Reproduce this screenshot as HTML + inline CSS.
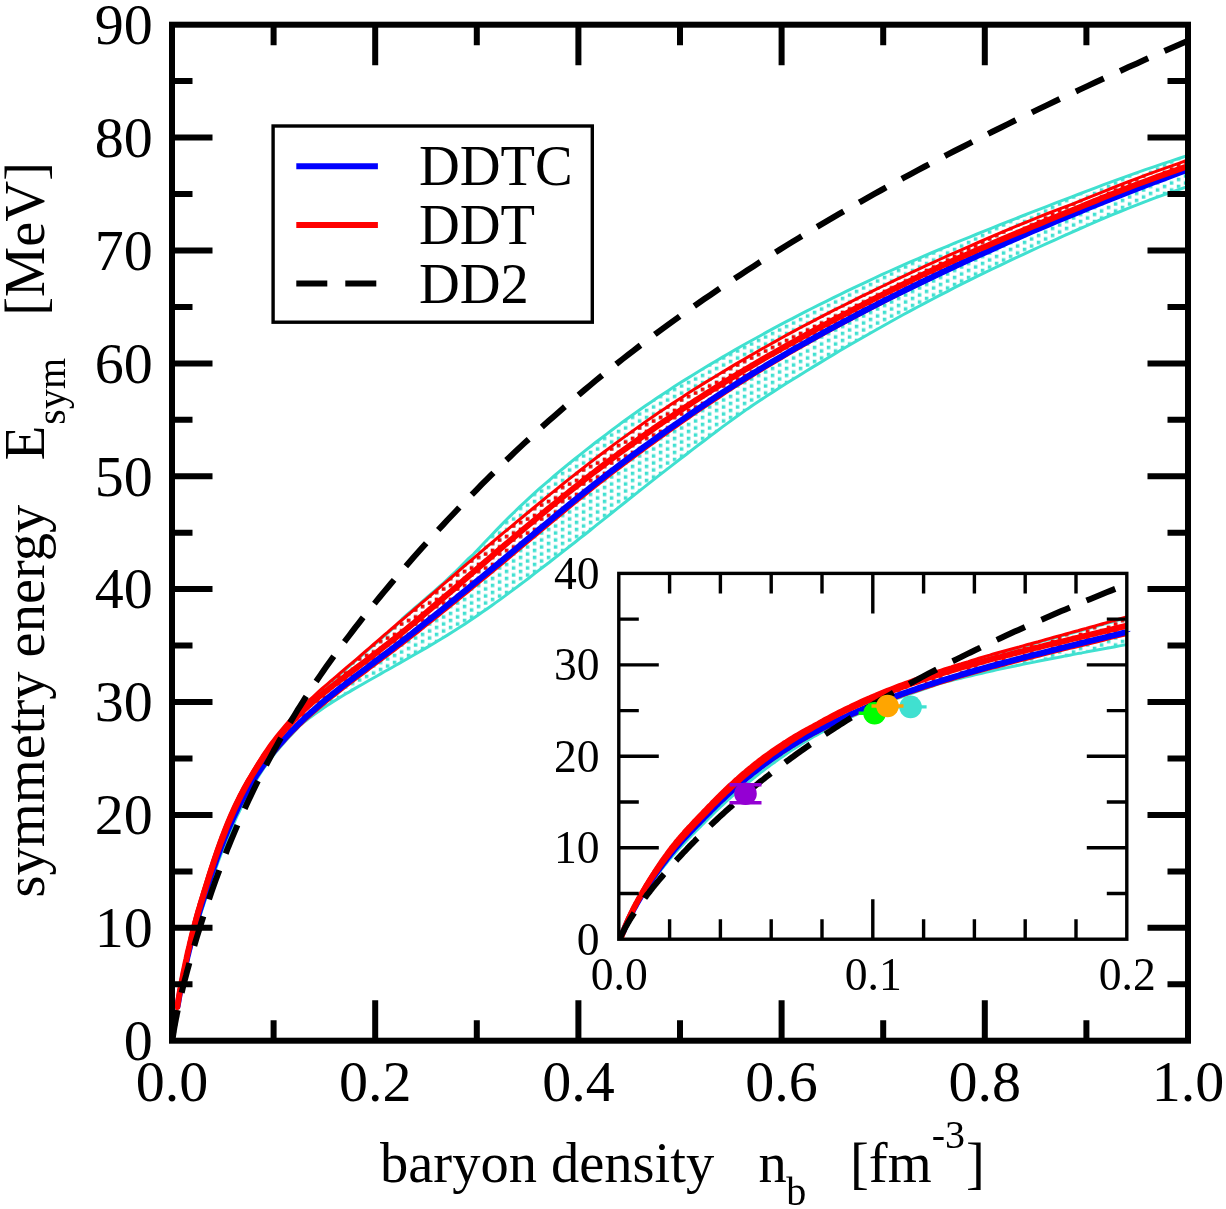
<!DOCTYPE html>
<html><head><meta charset="utf-8"><title>Symmetry energy</title>
<style>html,body{margin:0;padding:0;background:#fff;}svg{display:block;will-change:transform;}text{font-family:"Liberation Serif",serif;}</style></head>
<body>
<svg width="1226" height="1209" viewBox="0 0 1226 1209">
<defs>
<pattern id="ptq" x="560.8" y="520.7" width="14" height="7" patternUnits="userSpaceOnUse"><rect x="0" y="0" width="3.5" height="3.5" fill="#40e0d0"/><rect x="7" y="3.5" width="3.5" height="3.5" fill="#40e0d0"/></pattern>
<pattern id="prd" x="560.8" y="520.7" width="14" height="7" patternUnits="userSpaceOnUse"><rect x="0" y="0" width="3.5" height="3.5" fill="#ff0000"/><rect x="7" y="3.5" width="3.5" height="3.5" fill="#ff0000"/></pattern>
<clipPath id="cm"><rect x="172.0" y="24.7" width="1016.0" height="1016.0"/></clipPath>
<clipPath id="ci"><rect x="618.8" y="573.4" width="508.0" height="365.8"/></clipPath>
</defs>
<rect width="1226" height="1209" fill="#fff"/>
<g clip-path="url(#cm)" fill="none" stroke-linejoin="round">
<path d="M172.5,1042.2 L172.5,1042.2 L172.5,1042.0 L172.6,1041.7 L172.6,1041.3 L172.7,1040.7 L172.8,1039.9 L172.9,1039.0 L173.0,1037.8 L173.1,1036.5 L173.3,1035.1 L173.5,1033.5 L173.7,1031.7 L173.9,1029.8 L174.2,1027.8 L174.4,1025.6 L174.7,1023.3 L175.0,1020.9 L175.4,1018.4 L175.7,1015.8 L176.1,1013.1 L176.5,1010.3 L177.0,1007.4 L177.4,1004.4 L177.9,1001.4 L178.4,998.2 L179.0,995.0 L179.5,991.7 L180.1,988.3 L180.7,984.9 L181.4,981.3 L182.0,977.7 L182.7,974.1 L183.4,970.4 L184.2,966.6 L184.9,962.8 L185.7,958.9 L186.6,955.0 L187.4,951.0 L188.3,947.0 L189.2,943.0 L190.1,938.9 L191.1,934.8 L192.1,930.7 L193.1,926.7 L194.1,922.6 L195.2,918.5 L196.3,914.5 L197.4,910.5 L198.6,906.5 L199.7,902.5 L201.0,898.5 L202.2,894.4 L203.5,890.3 L204.8,886.2 L206.1,881.9 L207.5,877.5 L208.8,873.1 L210.3,868.6 L211.7,864.1 L213.2,859.7 L214.7,855.2 L216.2,850.7 L217.8,846.3 L219.4,841.8 L221.0,837.4 L222.7,833.1 L224.4,828.8 L226.1,824.5 L227.8,820.3 L229.6,816.1 L231.4,812.1 L233.3,808.0 L235.1,804.0 L237.0,800.1 L239.0,796.3 L240.9,792.5 L242.9,788.8 L245.0,785.2 L247.0,781.6 L249.1,778.1 L251.2,774.7 L253.4,770.9 L255.6,767.2 L257.8,763.6 L260.0,760.0 L262.3,756.5 L264.6,753.0 L267.0,749.6 L269.4,746.2 L271.8,742.9 L274.2,739.7 L276.7,736.5 L279.2,733.4 L281.7,730.3 L284.3,727.3 L286.9,724.3 L289.5,721.3 L292.2,718.4 L294.9,715.5 L297.7,712.7 L300.4,709.9 L303.2,707.1 L306.1,704.3 L308.9,701.6 L311.8,698.8 L314.8,696.1 L317.7,693.3 L320.7,690.5 L323.8,687.9 L326.8,685.3 L330.0,682.7 L333.1,680.0 L336.3,677.3 L339.5,674.6 L342.7,671.8 L346.0,669.0 L349.3,666.2 L352.6,663.3 L356.0,660.4 L359.4,657.5 L362.9,654.5 L366.3,651.5 L369.8,648.5 L373.4,645.4 L377.0,642.3 L380.6,639.2 L384.2,636.0 L387.9,632.9 L391.6,629.7 L395.4,626.4 L399.2,622.3 L403.0,618.1 L406.9,614.7 L410.8,611.4 L414.7,608.0 L418.7,604.6 L422.7,601.2 L426.7,597.7 L430.8,594.2 L434.9,590.6 L439.0,587.0 L443.2,583.3 L447.4,579.4 L451.6,575.4 L455.9,571.4 L460.2,567.1 L464.6,562.5 L469.0,558.1 L473.4,554.3 L477.9,549.5 L482.4,544.8 L486.9,540.0 L491.5,535.2 L496.1,530.4 L500.7,525.6 L505.4,520.8 L510.1,516.1 L514.9,511.5 L519.6,506.8 L524.5,502.3 L529.3,497.8 L534.2,493.3 L539.1,488.9 L544.1,484.6 L549.1,480.3 L554.1,476.0 L559.2,471.7 L564.3,467.5 L569.5,463.2 L574.7,459.0 L579.9,454.8 L585.2,450.6 L590.5,446.5 L595.8,442.3 L601.2,438.2 L606.6,434.1 L612.0,430.0 L617.5,425.9 L623.0,421.8 L628.6,417.8 L634.2,413.7 L639.8,409.8 L645.5,405.8 L651.2,401.9 L656.9,398.0 L662.7,394.2 L668.5,390.4 L674.3,386.6 L680.2,382.8 L686.2,379.1 L692.1,375.4 L698.1,371.7 L704.2,368.0 L710.3,364.4 L716.4,360.7 L722.5,357.1 L728.7,353.5 L735.0,349.9 L741.2,346.3 L747.5,342.7 L753.9,339.2 L760.3,335.7 L766.7,332.1 L773.1,328.6 L779.6,325.2 L786.2,321.7 L792.7,318.3 L799.3,314.8 L806.0,311.4 L812.7,308.0 L819.4,304.7 L826.2,301.3 L833.0,297.9 L839.8,294.6 L846.7,291.2 L853.6,287.9 L860.6,284.6 L867.6,281.3 L874.6,278.0 L881.7,274.7 L888.8,271.5 L895.9,268.3 L903.1,265.1 L910.3,261.9 L917.6,258.8 L924.9,255.6 L932.3,252.5 L939.6,249.4 L947.1,246.3 L954.5,243.2 L962.0,240.2 L969.6,237.1 L977.1,234.0 L984.8,230.9 L992.4,227.8 L1000.1,224.7 L1007.8,221.6 L1015.6,218.6 L1023.4,215.5 L1031.3,212.4 L1039.2,209.3 L1047.1,206.3 L1055.1,203.2 L1063.1,200.1 L1071.1,197.1 L1079.2,194.0 L1087.4,190.9 L1095.5,187.8 L1103.7,184.7 L1112.0,181.7 L1120.3,178.6 L1128.6,175.6 L1137.0,172.7 L1145.4,169.7 L1153.8,166.8 L1162.3,163.9 L1170.8,161.1 L1179.4,158.3 L1188.0,155.5 L1188.0,186.4 L1179.4,189.3 L1170.8,192.3 L1162.3,195.3 L1153.8,198.4 L1145.4,201.6 L1137.0,204.8 L1128.6,208.2 L1120.3,211.5 L1112.0,214.9 L1103.7,218.4 L1095.5,221.9 L1087.4,225.5 L1079.2,229.0 L1071.1,232.6 L1063.1,236.2 L1055.1,239.8 L1047.1,243.4 L1039.2,247.0 L1031.3,250.6 L1023.4,254.3 L1015.6,257.9 L1007.8,261.6 L1000.1,265.3 L992.4,269.0 L984.8,272.7 L977.1,276.4 L969.6,280.2 L962.0,283.9 L954.5,287.7 L947.1,291.6 L939.6,295.4 L932.3,299.3 L924.9,303.1 L917.6,307.0 L910.3,310.9 L903.1,314.8 L895.9,318.8 L888.8,322.7 L881.7,326.7 L874.6,330.7 L867.6,334.7 L860.6,338.7 L853.6,342.7 L846.7,346.8 L839.8,350.8 L833.0,354.9 L826.2,359.0 L819.4,363.1 L812.7,367.1 L806.0,371.2 L799.3,375.4 L792.7,379.5 L786.2,383.6 L779.6,387.7 L773.1,391.9 L766.7,396.1 L760.3,400.3 L753.9,404.6 L747.5,408.9 L741.2,413.4 L735.0,417.8 L728.7,422.4 L722.5,426.9 L716.4,431.5 L710.3,436.1 L704.2,440.7 L698.1,445.3 L692.1,449.9 L686.2,454.5 L680.2,459.0 L674.3,463.6 L668.5,468.1 L662.7,472.6 L656.9,477.1 L651.2,481.6 L645.5,486.1 L639.8,490.6 L634.2,495.1 L628.6,499.5 L623.0,504.0 L617.5,508.4 L612.0,512.8 L606.6,517.1 L601.2,521.4 L595.8,525.7 L590.5,530.0 L585.2,534.2 L579.9,538.3 L574.7,542.5 L569.5,546.5 L564.3,550.6 L559.2,554.6 L554.1,558.5 L549.1,562.5 L544.1,566.3 L539.1,570.1 L534.2,573.9 L529.3,577.7 L524.5,581.4 L519.6,585.0 L514.9,588.6 L510.1,592.1 L505.4,595.6 L500.7,599.1 L496.1,602.4 L491.5,605.7 L486.9,609.0 L482.4,612.1 L477.9,615.2 L473.4,618.3 L469.0,621.3 L464.6,624.2 L460.2,627.0 L455.9,629.8 L451.6,632.5 L447.4,635.1 L443.2,637.7 L439.0,640.3 L434.9,642.8 L430.8,645.2 L426.7,647.6 L422.7,649.9 L418.7,652.3 L414.7,654.5 L410.8,656.8 L406.9,659.0 L403.0,661.2 L399.2,663.4 L395.4,665.5 L391.6,667.7 L387.9,669.8 L384.2,671.8 L380.6,673.9 L377.0,676.0 L373.4,678.0 L369.8,680.0 L366.3,682.0 L362.9,684.0 L359.4,686.0 L356.0,687.9 L352.6,689.9 L349.3,691.9 L346.0,693.8 L342.7,695.8 L339.5,697.8 L336.3,699.8 L333.1,701.8 L330.0,703.8 L326.8,705.8 L323.8,707.8 L320.7,709.9 L317.7,712.0 L314.8,714.1 L311.8,716.2 L308.9,718.4 L306.1,720.6 L303.2,722.8 L300.4,725.1 L297.7,728.1 L294.9,731.1 L292.2,734.0 L289.5,736.8 L286.9,739.6 L284.3,742.5 L281.7,745.4 L279.2,748.3 L276.7,751.3 L274.2,754.3 L271.8,757.4 L269.4,760.5 L267.0,763.7 L264.6,767.0 L262.3,770.4 L260.0,773.9 L257.8,777.5 L255.6,781.2 L253.4,784.8 L251.2,788.6 L249.1,792.3 L247.0,796.1 L245.0,800.0 L242.9,804.0 L240.9,808.0 L239.0,812.1 L237.0,816.2 L235.1,820.4 L233.3,824.6 L231.4,828.8 L229.6,833.1 L227.8,837.3 L226.1,841.5 L224.4,845.8 L222.7,850.0 L221.0,854.3 L219.4,858.5 L217.8,862.8 L216.2,867.2 L214.7,871.5 L213.2,875.8 L211.7,880.1 L210.3,884.4 L208.8,888.7 L207.5,893.0 L206.1,897.2 L204.8,901.3 L203.5,905.3 L202.2,909.2 L201.0,913.1 L199.7,916.9 L198.6,920.7 L197.4,924.5 L196.3,928.2 L195.2,932.0 L194.1,935.7 L193.1,939.4 L192.1,943.1 L191.1,946.8 L190.1,950.4 L189.2,954.0 L188.3,957.6 L187.4,961.1 L186.6,964.6 L185.7,968.0 L184.9,971.4 L184.2,974.8 L183.4,978.1 L182.7,981.4 L182.0,984.6 L181.4,987.7 L180.7,990.9 L180.1,993.9 L179.5,996.9 L179.0,999.9 L178.4,1002.7 L177.9,1005.6 L177.4,1008.3 L177.0,1011.0 L176.5,1013.6 L176.1,1016.1 L175.7,1018.5 L175.4,1020.8 L175.0,1023.1 L174.7,1025.3 L174.4,1027.3 L174.2,1029.3 L173.9,1031.1 L173.7,1032.9 L173.5,1034.5 L173.3,1036.1 L173.1,1037.4 L173.0,1038.7 L172.9,1039.7 L172.8,1040.7 L172.7,1041.4 L172.6,1042.0 L172.6,1042.5 L172.5,1042.8 L172.5,1042.9 L172.5,1043.0Z" fill="url(#ptq)" stroke="#40e0d0" stroke-width="3.0"/>
<path d="M177.0,1006.5 L177.0,1006.5 L177.0,1006.4 L177.0,1006.2 L177.1,1005.8 L177.1,1005.4 L177.2,1004.9 L177.3,1004.2 L177.5,1003.4 L177.6,1002.5 L177.8,1001.5 L177.9,1000.3 L178.2,999.0 L178.4,997.7 L178.6,996.1 L178.9,994.5 L179.2,992.8 L179.5,990.9 L179.8,989.0 L180.2,986.9 L180.6,984.7 L181.0,982.4 L181.4,980.0 L181.9,977.6 L182.4,975.0 L182.9,972.3 L183.4,969.6 L184.0,966.7 L184.6,963.8 L185.2,960.8 L185.8,957.7 L186.5,954.5 L187.1,951.3 L187.8,948.0 L188.6,944.7 L189.4,941.3 L190.1,937.9 L191.0,934.4 L191.8,930.9 L192.7,927.3 L193.6,923.8 L194.5,920.2 L195.5,916.6 L196.4,913.0 L197.4,909.5 L198.5,905.9 L199.6,902.3 L200.6,898.6 L201.8,895.0 L202.9,891.2 L204.1,887.4 L205.3,883.6 L206.5,879.6 L207.8,875.5 L209.1,871.4 L210.4,867.2 L211.8,863.0 L213.2,858.8 L214.6,854.6 L216.0,850.5 L217.5,846.3 L219.0,842.1 L220.5,837.9 L222.1,833.8 L223.7,829.6 L225.3,825.6 L226.9,821.6 L228.6,817.6 L230.3,813.6 L232.1,809.7 L233.8,805.9 L235.6,802.1 L237.5,798.4 L239.3,794.7 L241.2,791.1 L243.1,787.5 L245.1,784.0 L247.1,780.6 L249.1,777.2 L251.2,773.9 L253.2,770.3 L255.4,766.7 L257.5,763.2 L259.7,759.7 L261.9,756.2 L264.1,752.9 L266.4,749.5 L268.7,746.2 L271.0,743.0 L273.4,739.8 L275.8,736.7 L278.2,733.7 L280.7,730.7 L283.2,727.7 L285.7,724.7 L288.3,721.8 L290.9,719.0 L293.5,716.1 L296.2,713.3 L298.8,710.5 L301.6,707.8 L304.3,705.1 L307.1,702.4 L309.9,699.7 L312.8,697.0 L315.7,694.3 L318.6,691.6 L321.6,688.9 L324.6,686.3 L327.6,683.8 L330.6,681.2 L333.7,678.6 L336.9,675.9 L340.0,673.2 L343.2,670.5 L346.4,667.7 L349.7,664.9 L353.0,662.1 L356.3,659.3 L359.7,656.4 L363.1,653.4 L366.5,650.5 L369.9,647.5 L373.4,644.5 L377.0,641.4 L380.5,638.3 L384.1,635.2 L387.8,632.1 L391.4,628.9 L395.2,625.7 L398.9,622.5 L402.7,619.3 L406.5,616.1 L410.3,612.8 L414.2,609.5 L418.1,606.1 L422.0,602.7 L426.0,599.3 L430.0,595.8 L434.1,592.3 L438.2,588.8 L442.3,585.2 L446.5,581.6 L450.7,578.0 L454.9,574.3 L459.1,570.6 L463.4,566.9 L467.8,563.2 L472.2,559.4 L476.6,555.6 L481.0,551.8 L485.5,548.0 L490.0,544.2 L494.5,540.4 L499.1,536.5 L503.7,532.7 L508.4,528.8 L513.1,524.9 L517.8,520.9 L522.6,517.0 L527.4,513.0 L532.2,509.0 L537.1,505.0 L542.0,501.0 L546.9,496.9 L551.9,492.9 L556.9,488.8 L562.0,484.8 L567.1,480.7 L572.2,476.6 L577.4,472.5 L582.6,468.5 L587.8,464.4 L593.1,460.3 L598.4,456.3 L603.7,452.2 L609.1,448.2 L614.5,444.1 L620.0,440.1 L625.5,436.1 L631.0,432.1 L636.6,428.1 L642.2,424.1 L647.8,420.1 L653.5,416.2 L659.2,412.3 L665.0,408.4 L670.8,404.5 L676.6,400.7 L682.5,396.9 L688.4,393.1 L694.3,389.3 L700.3,385.6 L706.3,381.9 L712.4,378.2 L718.5,374.5 L724.6,370.8 L730.7,367.1 L736.9,363.4 L743.2,359.8 L749.5,356.1 L755.8,352.5 L762.1,348.8 L768.5,345.2 L775.0,341.6 L781.4,338.0 L787.9,334.4 L794.5,330.9 L801.1,327.3 L807.7,323.8 L814.3,320.3 L821.0,316.8 L827.8,313.4 L834.5,309.9 L841.4,306.5 L848.2,303.1 L855.1,299.6 L862.0,296.2 L869.0,292.8 L876.0,289.4 L883.0,286.0 L890.1,282.6 L897.2,279.2 L904.4,275.8 L911.6,272.4 L918.8,269.1 L926.1,265.7 L933.4,262.4 L940.7,259.0 L948.1,255.7 L955.6,252.4 L963.0,249.1 L970.5,245.8 L978.1,242.5 L985.7,239.2 L993.3,235.9 L1000.9,232.7 L1008.6,229.4 L1016.4,226.2 L1024.2,223.0 L1032.0,219.8 L1039.8,216.6 L1047.7,213.5 L1055.7,210.4 L1063.6,207.4 L1071.7,204.3 L1079.7,201.2 L1087.8,197.9 L1095.9,194.6 L1104.1,191.3 L1112.3,188.0 L1120.6,184.7 L1128.9,181.5 L1137.2,178.3 L1145.6,175.2 L1154.0,172.2 L1162.4,169.1 L1170.9,166.1 L1179.4,163.1 L1188.0,160.0 L1188.0,170.1 L1179.4,173.3 L1170.9,176.5 L1162.4,179.6 L1154.0,182.8 L1145.6,185.9 L1137.2,189.1 L1128.9,192.4 L1120.6,195.6 L1112.3,198.9 L1104.1,202.2 L1095.9,205.5 L1087.8,208.8 L1079.7,212.1 L1071.7,215.5 L1063.6,218.8 L1055.7,222.2 L1047.7,225.6 L1039.8,228.9 L1032.0,232.4 L1024.2,235.8 L1016.4,239.2 L1008.6,242.7 L1000.9,246.2 L993.3,249.6 L985.7,253.1 L978.1,256.6 L970.5,260.1 L963.0,263.6 L955.6,267.2 L948.1,270.7 L940.7,274.2 L933.4,277.7 L926.1,281.3 L918.8,284.8 L911.6,288.4 L904.4,292.0 L897.2,295.6 L890.1,299.2 L883.0,302.8 L876.0,306.4 L869.0,310.1 L862.0,313.7 L855.1,317.4 L848.2,321.1 L841.4,324.8 L834.5,328.5 L827.8,332.2 L821.0,335.9 L814.3,339.7 L807.7,343.4 L801.1,347.2 L794.5,351.0 L787.9,354.8 L781.4,358.6 L775.0,362.4 L768.5,366.3 L762.1,370.1 L755.8,374.0 L749.5,377.9 L743.2,381.9 L736.9,385.8 L730.7,389.8 L724.6,393.8 L718.5,397.9 L712.4,401.9 L706.3,406.0 L700.3,410.1 L694.3,414.1 L688.4,418.2 L682.5,422.4 L676.6,426.5 L670.8,430.6 L665.0,434.7 L659.2,438.8 L653.5,443.0 L647.8,447.1 L642.2,451.2 L636.6,455.4 L631.0,459.5 L625.5,463.6 L620.0,467.8 L614.5,471.9 L609.1,476.1 L603.7,480.3 L598.4,484.4 L593.1,488.6 L587.8,492.8 L582.6,497.0 L577.4,501.2 L572.2,505.4 L567.1,509.6 L562.0,513.8 L556.9,518.0 L551.9,522.2 L546.9,526.3 L542.0,530.4 L537.1,534.5 L532.2,538.6 L527.4,542.7 L522.6,546.7 L517.8,550.7 L513.1,554.7 L508.4,558.6 L503.7,562.5 L499.1,566.3 L494.5,570.1 L490.0,573.8 L485.5,577.6 L481.0,581.2 L476.6,584.9 L472.2,588.4 L467.8,592.0 L463.4,595.5 L459.1,599.0 L454.9,602.5 L450.7,605.9 L446.5,609.3 L442.3,612.7 L438.2,616.0 L434.1,619.3 L430.0,622.5 L426.0,625.7 L422.0,628.9 L418.1,632.0 L414.2,635.1 L410.3,638.1 L406.5,641.1 L402.7,644.0 L398.9,646.9 L395.2,649.7 L391.4,652.5 L387.8,655.3 L384.1,658.0 L380.5,660.7 L377.0,663.4 L373.4,666.0 L369.9,668.6 L366.5,671.2 L363.1,673.8 L359.7,676.3 L356.3,678.8 L353.0,681.3 L349.7,683.8 L346.4,686.3 L343.2,688.8 L340.0,691.3 L336.9,693.7 L333.7,696.2 L330.6,698.6 L327.6,701.1 L324.6,703.6 L321.6,706.0 L318.6,708.5 L315.7,711.0 L312.8,713.5 L309.9,716.1 L307.1,718.6 L304.3,721.2 L301.6,723.8 L298.8,726.5 L296.2,729.1 L293.5,731.8 L290.9,734.5 L288.3,737.3 L285.7,740.0 L283.2,742.8 L280.7,745.6 L278.2,748.5 L275.8,751.3 L273.4,754.3 L271.0,757.3 L268.7,760.3 L266.4,763.3 L264.1,766.4 L261.9,769.6 L259.7,772.8 L257.5,776.0 L255.4,779.3 L253.2,782.6 L251.2,785.9 L249.1,789.3 L247.1,792.8 L245.1,796.3 L243.1,799.9 L241.2,803.6 L239.3,807.3 L237.5,811.0 L235.6,814.8 L233.8,818.7 L232.1,822.5 L230.3,826.5 L228.6,830.4 L226.9,834.3 L225.3,838.3 L223.7,842.3 L222.1,846.3 L220.5,850.4 L219.0,854.4 L217.5,858.5 L216.0,862.6 L214.6,866.7 L213.2,870.8 L211.8,874.9 L210.4,878.9 L209.1,883.0 L207.8,887.0 L206.5,891.0 L205.3,894.8 L204.1,898.6 L202.9,902.3 L201.8,905.9 L200.6,909.5 L199.6,913.0 L198.5,916.5 L197.4,920.0 L196.4,923.4 L195.5,926.9 L194.5,930.4 L193.6,933.8 L192.7,937.2 L191.8,940.5 L191.0,943.8 L190.1,947.1 L189.4,950.3 L188.6,953.5 L187.8,956.6 L187.1,959.6 L186.5,962.6 L185.8,965.5 L185.2,968.4 L184.6,971.2 L184.0,973.9 L183.4,976.5 L182.9,979.0 L182.4,981.5 L181.9,983.9 L181.4,986.2 L181.0,988.4 L180.6,990.5 L180.2,992.5 L179.8,994.4 L179.5,996.2 L179.2,998.0 L178.9,999.6 L178.6,1001.1 L178.4,1002.5 L178.2,1003.8 L177.9,1005.0 L177.8,1006.0 L177.6,1007.0 L177.5,1007.8 L177.3,1008.6 L177.2,1009.2 L177.1,1009.7 L177.1,1010.1 L177.0,1010.4 L177.0,1010.6 L177.0,1010.7 L177.0,1010.7Z" fill="url(#prd)" stroke="#f00" stroke-width="3.0"/>
<path d="M177.4,1007.2 L177.4,1007.2 L177.4,1007.1 L177.4,1006.9 L177.5,1006.6 L177.6,1006.2 L177.6,1005.7 L177.7,1005.1 L177.9,1004.4 L178.0,1003.6 L178.2,1002.6 L178.4,1001.6 L178.6,1000.4 L178.8,999.1 L179.0,997.8 L179.3,996.3 L179.6,994.7 L179.9,993.0 L180.2,991.2 L180.6,989.3 L181.0,987.3 L181.4,985.2 L181.8,983.0 L182.3,980.8 L182.8,978.4 L183.3,976.0 L183.8,973.4 L184.4,970.8 L185.0,968.1 L185.6,965.4 L186.2,962.6 L186.9,959.7 L187.5,956.7 L188.3,953.7 L189.0,950.6 L189.8,947.4 L190.5,944.2 L191.4,941.0 L192.2,937.7 L193.1,934.4 L194.0,931.0 L194.9,927.6 L195.9,924.1 L196.8,920.7 L197.8,917.2 L198.9,913.8 L199.9,910.3 L201.0,906.8 L202.2,903.2 L203.3,899.6 L204.5,895.9 L205.7,892.1 L206.9,888.2 L208.2,884.2 L209.5,880.2 L210.8,876.1 L212.2,872.1 L213.5,868.0 L215.0,863.9 L216.4,859.8 L217.9,855.7 L219.4,851.7 L220.9,847.6 L222.5,843.6 L224.0,839.6 L225.7,835.6 L227.3,831.6 L229.0,827.6 L230.7,823.7 L232.4,819.8 L234.2,815.9 L236.0,812.1 L237.8,808.3 L239.7,804.5 L241.6,800.8 L243.5,797.2 L245.5,793.6 L247.5,790.0 L249.5,786.6 L251.5,783.2 L253.6,779.8 L255.7,776.5 L257.9,773.2 L260.0,770.0 L262.3,766.8 L264.5,763.6 L266.8,760.5 L269.1,757.4 L271.4,754.4 L273.8,751.4 L276.2,748.4 L278.6,745.5 L281.1,742.7 L283.6,739.9 L286.1,737.0 L288.6,734.3 L291.2,731.5 L293.9,728.8 L296.5,726.1 L299.2,723.4 L301.9,720.8 L304.7,718.1 L307.5,715.5 L310.3,713.0 L313.2,710.4 L316.0,707.9 L319.0,705.3 L321.9,702.8 L324.9,700.3 L327.9,697.9 L331.0,695.4 L334.1,692.9 L337.2,690.4 L340.4,687.9 L343.5,685.5 L346.8,683.0 L350.0,680.5 L353.3,678.0 L356.6,675.4 L360.0,672.9 L363.4,670.3 L366.8,667.8 L370.3,665.2 L373.8,662.5 L377.3,659.9 L380.9,657.2 L384.5,654.5 L388.1,651.8 L391.8,649.0 L395.5,646.2 L399.2,643.3 L403.0,640.4 L406.8,637.5 L410.6,634.5 L414.5,631.4 L418.4,628.3 L422.4,625.2 L426.3,622.0 L430.3,618.8 L434.4,615.6 L438.5,612.3 L442.6,609.0 L446.8,605.6 L451.0,602.2 L455.2,598.8 L459.4,595.3 L463.7,591.8 L468.1,588.3 L472.4,584.7 L476.8,581.1 L481.3,577.5 L485.8,573.8 L490.3,570.1 L494.8,566.4 L499.4,562.6 L504.0,558.8 L508.7,554.9 L513.4,551.0 L518.1,547.0 L522.8,543.0 L527.6,539.0 L532.5,535.0 L537.3,530.9 L542.3,526.8 L547.2,522.7 L552.2,518.5 L557.2,514.4 L562.2,510.2 L567.3,506.1 L572.5,501.9 L577.6,497.7 L582.8,493.5 L588.1,489.3 L593.3,485.2 L598.6,481.0 L604.0,476.9 L609.4,472.7 L614.8,468.6 L620.2,464.4 L625.7,460.3 L631.2,456.2 L636.8,452.1 L642.4,448.0 L648.1,443.9 L653.7,439.8 L659.4,435.7 L665.2,431.6 L671.0,427.5 L676.8,423.5 L682.7,419.4 L688.6,415.3 L694.5,411.2 L700.5,407.2 L706.5,403.2 L712.6,399.1 L718.6,395.1 L724.8,391.1 L730.9,387.2 L737.1,383.2 L743.4,379.3 L749.6,375.4 L756.0,371.5 L762.3,367.7 L768.7,363.9 L775.1,360.0 L781.6,356.3 L788.1,352.5 L794.6,348.7 L801.2,345.0 L807.8,341.3 L814.5,337.6 L821.2,333.9 L827.9,330.2 L834.7,326.6 L841.5,322.9 L848.3,319.3 L855.2,315.6 L862.1,312.0 L869.1,308.4 L876.1,304.8 L883.1,301.2 L890.2,297.6 L897.3,294.1 L904.5,290.5 L911.7,287.0 L918.9,283.5 L926.2,280.0 L933.5,276.5 L940.8,273.0 L948.2,269.5 L955.6,266.0 L963.1,262.6 L970.6,259.1 L978.2,255.6 L985.7,252.2 L993.4,248.7 L1001.0,245.3 L1008.7,241.8 L1016.4,238.4 L1024.2,235.0 L1032.0,231.6 L1039.9,228.2 L1047.8,224.9 L1055.7,221.5 L1063.7,218.2 L1071.7,214.9 L1079.8,211.6 L1087.8,208.2 L1096.0,205.0 L1104.1,201.7 L1112.3,198.4 L1120.6,195.1 L1128.9,191.9 L1137.2,188.6 L1145.6,185.4 L1154.0,182.3 L1162.4,179.1 L1170.9,176.0 L1179.4,172.8 L1188.0,169.6" stroke="#00f" stroke-width="6"/>
<path d="M177.0,1008.8 L177.0,1008.8 L177.0,1008.7 L177.0,1008.5 L177.1,1008.1 L177.1,1007.7 L177.2,1007.2 L177.3,1006.6 L177.5,1005.8 L177.6,1004.9 L177.8,1003.9 L177.9,1002.8 L178.2,1001.6 L178.4,1000.2 L178.6,998.8 L178.9,997.2 L179.2,995.5 L179.5,993.7 L179.8,991.9 L180.2,989.9 L180.6,987.8 L181.0,985.6 L181.4,983.3 L181.9,980.9 L182.4,978.4 L182.9,975.9 L183.4,973.2 L184.0,970.5 L184.6,967.7 L185.2,964.8 L185.8,961.9 L186.5,958.9 L187.1,955.8 L187.8,952.6 L188.6,949.4 L189.4,946.1 L190.1,942.8 L191.0,939.4 L191.8,936.0 L192.7,932.5 L193.6,929.0 L194.5,925.5 L195.5,921.9 L196.4,918.3 L197.4,914.8 L198.5,911.2 L199.6,907.6 L200.6,903.9 L201.8,900.3 L202.9,896.5 L204.1,892.7 L205.3,888.9 L206.5,884.9 L207.8,880.8 L209.1,876.7 L210.4,872.5 L211.8,868.3 L213.2,864.1 L214.6,859.9 L216.0,855.8 L217.5,851.6 L219.0,847.4 L220.5,843.2 L222.1,839.1 L223.7,834.9 L225.3,830.8 L226.9,826.7 L228.6,822.7 L230.3,818.6 L232.1,814.6 L233.8,810.6 L235.6,806.7 L237.5,802.7 L239.3,798.9 L241.2,795.0 L243.1,791.3 L245.1,787.6 L247.1,783.9 L249.1,780.3 L251.2,776.8 L253.2,773.3 L255.4,769.8 L257.5,766.4 L259.7,763.0 L261.9,759.7 L264.1,756.4 L266.4,753.1 L268.7,749.9 L271.0,746.8 L273.4,743.7 L275.8,740.6 L278.2,737.6 L280.7,734.7 L283.2,731.8 L285.7,728.9 L288.3,726.0 L290.9,723.2 L293.5,720.5 L296.2,717.7 L298.8,715.0 L301.6,712.3 L304.3,709.7 L307.1,707.1 L309.9,704.5 L312.8,702.0 L315.7,699.5 L318.6,697.0 L321.6,694.6 L324.6,692.2 L327.6,689.8 L330.6,687.4 L333.7,685.0 L336.9,682.6 L340.0,680.2 L343.2,677.8 L346.4,675.4 L349.7,672.9 L353.0,670.5 L356.3,668.0 L359.7,665.4 L363.1,662.9 L366.5,660.3 L369.9,657.7 L373.4,655.0 L377.0,652.3 L380.5,649.5 L384.1,646.7 L387.8,643.9 L391.4,641.0 L395.2,638.1 L398.9,635.1 L402.7,632.1 L406.5,629.0 L410.3,625.9 L414.2,622.7 L418.1,619.4 L422.0,616.1 L426.0,612.8 L430.0,609.4 L434.1,605.9 L438.2,602.4 L442.3,598.9 L446.5,595.3 L450.7,591.7 L454.9,588.1 L459.1,584.4 L463.4,580.6 L467.8,576.9 L472.2,573.1 L476.6,569.3 L481.0,565.4 L485.5,561.6 L490.0,557.7 L494.5,553.8 L499.1,549.9 L503.7,545.9 L508.4,542.0 L513.1,538.0 L517.8,534.0 L522.6,530.0 L527.4,526.0 L532.2,522.0 L537.1,518.0 L542.0,514.0 L546.9,509.9 L551.9,505.8 L556.9,501.7 L562.0,497.6 L567.1,493.5 L572.2,489.4 L577.4,485.3 L582.6,481.2 L587.8,477.1 L593.1,473.0 L598.4,469.0 L603.7,464.9 L609.1,460.8 L614.5,456.8 L620.0,452.7 L625.5,448.7 L631.0,444.7 L636.6,440.7 L642.2,436.7 L647.8,432.7 L653.5,428.7 L659.2,424.8 L665.0,420.8 L670.8,416.9 L676.6,413.0 L682.5,409.1 L688.4,405.2 L694.3,401.3 L700.3,397.4 L706.3,393.6 L712.4,389.8 L718.5,385.9 L724.6,382.1 L730.7,378.4 L736.9,374.6 L743.2,370.8 L749.5,367.1 L755.8,363.4 L762.1,359.6 L768.5,355.9 L775.0,352.3 L781.4,348.6 L787.9,344.9 L794.5,341.3 L801.1,337.6 L807.7,334.0 L814.3,330.4 L821.0,326.7 L827.8,323.1 L834.5,319.5 L841.4,315.9 L848.2,312.3 L855.1,308.7 L862.0,305.1 L869.0,301.5 L876.0,297.9 L883.0,294.4 L890.1,290.8 L897.2,287.2 L904.4,283.7 L911.6,280.1 L918.8,276.6 L926.1,273.1 L933.4,269.7 L940.7,266.3 L948.1,262.9 L955.6,259.5 L963.0,256.2 L970.5,252.9 L978.1,249.6 L985.7,246.4 L993.3,243.1 L1000.9,239.8 L1008.6,236.6 L1016.4,233.3 L1024.2,230.1 L1032.0,226.8 L1039.8,223.6 L1047.7,220.3 L1055.7,217.0 L1063.6,213.8 L1071.7,210.5 L1079.7,207.2 L1087.8,203.9 L1095.9,200.6 L1104.1,197.3 L1112.3,194.0 L1120.6,190.7 L1128.9,187.5 L1137.2,184.3 L1145.6,181.2 L1154.0,178.2 L1162.4,175.1 L1170.9,172.1 L1179.4,169.1 L1188.0,166.0" stroke="#f00" stroke-width="6"/>
<path d="M172.0,1040.7 L172.0,1042.1 L172.0,1042.5 L172.1,1042.6 L172.1,1042.4 L172.2,1041.9 L172.3,1041.4 L172.4,1040.6 L172.5,1039.7 L172.6,1038.7 L172.8,1037.6 L173.0,1036.3 L173.2,1034.9 L173.4,1033.5 L173.7,1031.9 L173.9,1030.3 L174.2,1028.5 L174.5,1026.7 L174.9,1024.8 L175.2,1022.8 L175.6,1020.8 L176.0,1018.6 L176.5,1016.4 L176.9,1014.1 L177.4,1011.8 L177.9,1009.3 L178.5,1006.8 L179.0,1004.3 L179.6,1001.7 L180.2,999.0 L180.9,996.2 L181.5,993.4 L182.2,990.5 L182.9,987.6 L183.7,984.6 L184.4,981.6 L185.2,978.5 L186.1,975.3 L186.9,972.1 L187.8,968.8 L188.7,965.5 L189.6,962.1 L190.6,958.7 L191.6,955.2 L192.6,951.6 L193.6,948.0 L194.7,944.4 L195.8,940.7 L196.9,937.0 L198.1,933.2 L199.3,929.3 L200.5,925.4 L201.7,921.5 L203.0,917.5 L204.3,913.5 L205.6,909.4 L207.0,905.3 L208.4,901.2 L209.8,897.0 L211.2,892.8 L212.7,888.6 L214.2,884.3 L215.7,880.0 L217.3,875.7 L218.9,871.4 L220.5,867.0 L222.2,862.7 L223.9,858.3 L225.6,853.9 L227.3,849.4 L229.1,845.0 L230.9,840.6 L232.8,836.1 L234.7,831.6 L236.6,827.1 L238.5,822.7 L240.5,818.2 L242.5,813.7 L244.5,809.2 L246.5,804.7 L248.6,800.2 L250.8,795.7 L252.9,791.2 L255.1,786.7 L257.3,782.2 L259.6,777.7 L261.9,773.3 L264.2,768.8 L266.5,764.3 L268.9,759.8 L271.3,755.3 L273.7,750.8 L276.2,746.4 L278.7,741.9 L281.3,737.4 L283.8,733.0 L286.5,728.5 L289.1,724.1 L291.8,719.6 L294.5,715.2 L297.2,710.7 L300.0,706.3 L302.8,701.9 L305.6,697.4 L308.5,693.0 L311.4,688.6 L314.3,684.2 L317.3,679.8 L320.3,675.4 L323.3,671.0 L326.4,666.6 L329.5,662.2 L332.7,657.8 L335.8,653.5 L339.0,649.1 L342.3,644.7 L345.6,640.3 L348.9,636.0 L352.2,631.6 L355.6,627.2 L359.0,622.8 L362.4,618.4 L365.9,614.1 L369.4,609.7 L373.0,605.3 L376.6,600.9 L380.2,596.5 L383.8,592.1 L387.5,587.7 L391.2,583.3 L395.0,578.8 L398.8,574.4 L402.6,570.0 L406.5,565.5 L410.4,561.0 L414.3,556.6 L418.3,552.1 L422.3,547.6 L426.3,543.1 L430.4,538.6 L434.5,534.1 L438.6,529.6 L442.8,525.1 L447.0,520.5 L451.3,516.0 L455.6,511.5 L459.9,506.9 L464.2,502.4 L468.6,497.9 L473.1,493.3 L477.5,488.8 L482.0,484.2 L486.6,479.7 L491.1,475.1 L495.7,470.6 L500.4,466.0 L505.0,461.5 L509.8,457.0 L514.5,452.4 L519.3,447.9 L524.1,443.4 L529.0,438.9 L533.9,434.3 L538.8,429.8 L543.8,425.3 L548.8,420.8 L553.8,416.4 L558.9,411.9 L564.0,407.4 L569.2,402.9 L574.4,398.5 L579.6,394.1 L584.9,389.6 L590.2,385.2 L595.5,380.8 L600.9,376.4 L606.3,372.0 L611.7,367.7 L617.2,363.3 L622.7,359.0 L628.3,354.6 L633.9,350.3 L639.5,346.0 L645.2,341.7 L650.9,337.4 L656.6,333.1 L662.4,328.9 L668.2,324.6 L674.1,320.4 L680.0,316.1 L685.9,311.9 L691.9,307.7 L697.9,303.5 L703.9,299.3 L710.0,295.2 L716.1,291.0 L722.3,286.8 L728.5,282.7 L734.7,278.5 L741.0,274.4 L747.3,270.3 L753.7,266.2 L760.0,262.1 L766.5,258.0 L772.9,253.9 L779.4,249.9 L786.0,245.8 L792.5,241.8 L799.2,237.7 L805.8,233.7 L812.5,229.7 L819.2,225.7 L826.0,221.7 L832.8,217.7 L839.6,213.7 L846.5,209.7 L853.4,205.8 L860.4,201.8 L867.4,197.8 L874.4,193.9 L881.5,190.0 L888.6,186.1 L895.8,182.1 L903.0,178.2 L910.2,174.3 L917.5,170.4 L924.8,166.5 L932.1,162.7 L939.5,158.8 L946.9,154.9 L954.4,151.0 L961.9,147.2 L969.5,143.3 L977.0,139.5 L984.7,135.6 L992.3,131.8 L1000.0,128.0 L1007.8,124.1 L1015.5,120.3 L1023.4,116.5 L1031.2,112.7 L1039.1,108.9 L1047.0,105.1 L1055.0,101.3 L1063.0,97.5 L1071.1,93.7 L1079.2,89.9 L1087.3,86.1 L1095.5,82.3 L1103.7,78.5 L1111.9,74.7 L1120.2,70.9 L1128.6,67.1 L1136.9,63.4 L1145.3,59.6 L1153.8,55.8 L1162.3,52.0 L1170.8,48.2 L1179.4,44.5 L1188.0,40.7" stroke="#000" stroke-width="6" stroke-dasharray="30.8 17.9" stroke-dashoffset="-4"/>
</g>
<g stroke="#000" stroke-width="6" fill="none" stroke-linecap="butt">
<rect x="172.0" y="24.7" width="1016.0" height="1016.0"/>
<path d="M273.6,1040.7 v-20.5 M273.6,24.7 v20.5"/>
<path d="M375.2,1040.7 v-40.5 M375.2,24.7 v40.5"/>
<path d="M476.8,1040.7 v-20.5 M476.8,24.7 v20.5"/>
<path d="M578.4,1040.7 v-40.5 M578.4,24.7 v40.5"/>
<path d="M680.0,1040.7 v-20.5 M680.0,24.7 v20.5"/>
<path d="M781.6,1040.7 v-40.5 M781.6,24.7 v40.5"/>
<path d="M883.2,1040.7 v-20.5 M883.2,24.7 v20.5"/>
<path d="M984.8,1040.7 v-40.5 M984.8,24.7 v40.5"/>
<path d="M1086.4,1040.7 v-20.5 M1086.4,24.7 v20.5"/>
<path d="M172.0,984.3 h20.5 M1188.0,984.3 h-20.5"/>
<path d="M172.0,927.8 h40.5 M1188.0,927.8 h-40.5"/>
<path d="M172.0,871.4 h20.5 M1188.0,871.4 h-20.5"/>
<path d="M172.0,814.9 h40.5 M1188.0,814.9 h-40.5"/>
<path d="M172.0,758.5 h20.5 M1188.0,758.5 h-20.5"/>
<path d="M172.0,702.0 h40.5 M1188.0,702.0 h-40.5"/>
<path d="M172.0,645.6 h20.5 M1188.0,645.6 h-20.5"/>
<path d="M172.0,589.1 h40.5 M1188.0,589.1 h-40.5"/>
<path d="M172.0,532.7 h20.5 M1188.0,532.7 h-20.5"/>
<path d="M172.0,476.3 h40.5 M1188.0,476.3 h-40.5"/>
<path d="M172.0,419.8 h20.5 M1188.0,419.8 h-20.5"/>
<path d="M172.0,363.4 h40.5 M1188.0,363.4 h-40.5"/>
<path d="M172.0,306.9 h20.5 M1188.0,306.9 h-20.5"/>
<path d="M172.0,250.5 h40.5 M1188.0,250.5 h-40.5"/>
<path d="M172.0,194.0 h20.5 M1188.0,194.0 h-20.5"/>
<path d="M172.0,137.6 h40.5 M1188.0,137.6 h-40.5"/>
<path d="M172.0,81.1 h20.5 M1188.0,81.1 h-20.5"/>
</g>
<g font-family="Liberation Serif, serif" font-size="56.5" fill="#000">
<text x="152.8" y="1060.0" text-anchor="end" font-size="58.0">0</text>
<text x="152.8" y="947.1" text-anchor="end" font-size="58.0">10</text>
<text x="152.8" y="834.2" text-anchor="end" font-size="58.0">20</text>
<text x="152.8" y="721.3" text-anchor="end" font-size="58.0">30</text>
<text x="152.8" y="608.4" text-anchor="end" font-size="58.0">40</text>
<text x="152.8" y="495.6" text-anchor="end" font-size="58.0">50</text>
<text x="152.8" y="382.7" text-anchor="end" font-size="58.0">60</text>
<text x="152.8" y="269.8" text-anchor="end" font-size="58.0">70</text>
<text x="152.8" y="156.9" text-anchor="end" font-size="58.0">80</text>
<text x="152.8" y="44.0" text-anchor="end" font-size="58.0">90</text>
<text x="172.0" y="1101" text-anchor="middle" font-size="58.0">0.0</text>
<text x="375.2" y="1101" text-anchor="middle" font-size="58.0">0.2</text>
<text x="578.4" y="1101" text-anchor="middle" font-size="58.0">0.4</text>
<text x="781.6" y="1101" text-anchor="middle" font-size="58.0">0.6</text>
<text x="984.8" y="1101" text-anchor="middle" font-size="58.0">0.8</text>
<text x="1188.0" y="1101" text-anchor="middle" font-size="58.0">1.0</text>
<text x="380" y="1181.8">baryon density</text>
<text x="758.4" y="1181.8">n</text>
<text x="786.3" y="1204.6" font-size="40.0">b</text>
<text x="850" y="1181.8">[fm</text>
<text x="931.7" y="1148" font-size="40.0">-3</text>
<text x="966" y="1181.8">]</text>
<g transform="translate(43.6,0) rotate(-90)">
<text x="-897.5" y="0">symmetry energy</text>
<text x="-460.2" y="0">E</text>
<text x="-424.7" y="21.8" font-size="40.0">sym</text>
<text x="-315.8" y="0">[MeV]</text>
</g>
</g>
<rect x="273.1" y="126" width="319.2" height="196.2" fill="#fff" stroke="#000" stroke-width="3.4"/>
<path d="M296.3,166.2 H377.9" stroke="#00f" stroke-width="6"/>
<path d="M296.3,225 H377.9" stroke="#f00" stroke-width="6"/>
<path d="M296.3,283.6 H377.9" stroke="#000" stroke-width="6" stroke-dasharray="31 18"/>
<g font-family="Liberation Serif, serif" font-size="56.5" fill="#000">
<text x="419" y="184.8">DDTC</text><text x="419" y="243.6">DDT</text><text x="419" y="302.7">DD2</text>
</g>
<rect x="618.8" y="573.4" width="508.0" height="365.8" fill="#fff"/>
<g clip-path="url(#ci)" fill="none" stroke-linejoin="round">
<path d="M620.1,940.4 L620.1,940.4 L620.1,940.4 L620.1,940.3 L620.1,940.3 L620.2,940.2 L620.2,940.0 L620.3,939.9 L620.3,939.7 L620.4,939.5 L620.5,939.3 L620.6,939.0 L620.7,938.7 L620.8,938.4 L620.9,938.0 L621.0,937.6 L621.2,937.2 L621.3,936.7 L621.5,936.2 L621.7,935.7 L621.9,935.1 L622.1,934.5 L622.3,933.9 L622.5,933.3 L622.8,932.6 L623.0,931.9 L623.3,931.2 L623.6,930.4 L623.9,929.6 L624.2,928.8 L624.5,928.0 L624.8,927.1 L625.2,926.3 L625.5,925.4 L625.9,924.4 L626.3,923.5 L626.7,922.5 L627.1,921.6 L627.5,920.6 L628.0,919.5 L628.4,918.5 L628.9,917.4 L629.4,916.4 L629.8,915.3 L630.4,914.2 L630.9,913.0 L631.4,911.9 L632.0,910.7 L632.5,909.6 L633.1,908.4 L633.7,907.2 L634.3,905.9 L634.9,904.7 L635.6,903.5 L636.2,902.2 L636.9,900.9 L637.6,899.6 L638.2,898.3 L639.0,897.0 L639.7,895.7 L640.4,894.3 L641.2,892.9 L641.9,891.6 L642.7,890.2 L643.5,888.8 L644.3,887.4 L645.2,885.9 L646.0,884.5 L646.9,883.1 L647.7,881.6 L648.6,880.1 L649.5,878.7 L650.5,877.2 L651.4,875.7 L652.3,874.1 L653.3,872.6 L654.3,871.1 L655.3,869.6 L656.3,868.0 L657.3,866.5 L658.4,864.9 L659.4,863.3 L660.5,861.8 L661.6,860.2 L662.7,858.6 L663.9,857.0 L665.0,855.5 L666.2,853.9 L667.3,852.3 L668.5,850.7 L669.7,849.1 L670.9,847.5 L672.2,845.9 L673.4,844.3 L674.7,842.7 L676.0,841.2 L677.3,839.6 L678.6,838.0 L680.0,836.4 L681.3,834.9 L682.7,833.3 L684.1,831.8 L685.5,830.2 L686.9,828.7 L688.3,827.1 L689.8,825.5 L691.2,824.0 L692.7,822.4 L694.2,820.8 L695.7,819.2 L697.3,817.6 L698.8,816.0 L700.4,814.3 L702.0,812.7 L703.6,811.0 L705.2,809.4 L706.8,807.7 L708.5,805.9 L710.2,804.2 L711.9,802.4 L713.6,800.7 L715.3,798.9 L717.0,797.2 L718.8,795.5 L720.6,793.7 L722.4,792.0 L724.2,790.2 L726.0,788.5 L727.8,786.7 L729.7,785.0 L731.6,783.3 L733.5,781.5 L735.4,779.8 L737.3,778.1 L739.3,776.4 L741.2,774.6 L743.2,772.9 L745.2,771.2 L747.2,769.5 L749.3,767.9 L751.3,766.2 L753.4,764.5 L755.5,762.9 L757.6,761.3 L759.7,759.6 L761.8,758.0 L764.0,756.4 L766.2,754.8 L768.4,753.2 L770.6,751.7 L772.8,750.1 L775.1,748.5 L777.3,747.0 L779.6,745.5 L781.9,744.0 L784.3,742.5 L786.6,741.0 L789.0,739.5 L791.3,738.0 L793.7,736.6 L796.1,735.1 L798.6,733.7 L801.0,732.3 L803.5,730.9 L806.0,729.5 L808.5,728.1 L811.0,726.8 L813.5,725.4 L816.1,724.1 L818.7,722.7 L821.3,721.2 L823.9,719.8 L826.5,718.3 L829.1,716.9 L831.8,715.5 L834.5,714.1 L837.2,712.7 L839.9,711.3 L842.7,709.9 L845.4,708.5 L848.2,707.2 L851.0,705.8 L853.8,704.5 L856.7,703.2 L859.5,701.9 L862.4,700.6 L865.3,699.3 L868.2,698.0 L871.1,696.7 L874.1,695.5 L877.0,694.2 L880.0,693.0 L883.0,691.7 L886.0,690.5 L889.1,689.3 L892.1,688.1 L895.2,687.0 L898.3,685.8 L901.4,684.6 L904.6,683.4 L907.7,682.3 L910.9,681.1 L914.1,680.0 L917.3,678.8 L920.5,677.7 L923.8,676.6 L927.1,675.5 L930.3,674.3 L933.6,673.2 L937.0,672.1 L940.3,671.0 L943.7,669.9 L947.1,668.9 L950.5,667.8 L953.9,666.7 L957.3,665.6 L960.8,664.6 L964.3,663.5 L967.8,662.4 L971.3,661.4 L974.8,660.3 L978.4,659.2 L982.0,658.1 L985.6,657.0 L989.2,656.0 L992.8,654.9 L996.5,653.9 L1000.1,652.8 L1003.8,651.8 L1007.5,650.9 L1011.3,649.9 L1015.0,648.8 L1018.8,647.8 L1022.6,646.7 L1026.4,645.7 L1030.2,644.6 L1034.1,643.5 L1037.9,642.5 L1041.8,641.4 L1045.7,640.3 L1049.7,639.2 L1053.6,638.1 L1057.6,637.0 L1061.6,635.9 L1065.6,634.8 L1069.6,633.7 L1073.7,632.6 L1077.7,631.4 L1081.8,630.3 L1085.9,629.2 L1090.0,628.0 L1094.2,626.8 L1098.4,625.7 L1102.5,624.5 L1106.7,623.3 L1111.0,622.2 L1115.2,621.0 L1119.5,619.8 L1123.8,618.6 L1128.1,617.4 L1128.1,644.3 L1123.8,645.1 L1119.5,645.9 L1115.2,646.7 L1111.0,647.5 L1106.7,648.2 L1102.5,649.0 L1098.4,649.8 L1094.2,650.6 L1090.0,651.3 L1085.9,652.1 L1081.8,652.9 L1077.7,653.6 L1073.7,654.4 L1069.6,655.2 L1065.6,655.9 L1061.6,656.7 L1057.6,657.5 L1053.6,658.2 L1049.7,659.0 L1045.7,659.8 L1041.8,660.5 L1037.9,661.3 L1034.1,662.1 L1030.2,662.9 L1026.4,663.6 L1022.6,664.4 L1018.8,665.2 L1015.0,666.0 L1011.3,666.8 L1007.5,667.6 L1003.8,668.3 L1000.1,669.1 L996.5,669.9 L992.8,670.7 L989.2,671.6 L985.6,672.4 L982.0,673.2 L978.4,674.0 L974.8,674.8 L971.3,675.7 L967.8,676.5 L964.3,677.3 L960.8,678.2 L957.3,679.0 L953.9,679.9 L950.5,680.8 L947.1,681.6 L943.7,682.5 L940.3,683.4 L937.0,684.6 L933.6,685.7 L930.3,686.9 L927.1,688.0 L923.8,689.2 L920.5,690.3 L917.3,691.4 L914.1,692.5 L910.9,693.6 L907.7,694.7 L904.6,695.8 L901.4,697.0 L898.3,698.1 L895.2,699.2 L892.1,700.4 L889.1,701.5 L886.0,702.6 L883.0,703.8 L880.0,705.0 L877.0,706.1 L874.1,707.3 L871.1,708.5 L868.2,709.7 L865.3,710.9 L862.4,712.1 L859.5,713.4 L856.7,714.6 L853.8,715.9 L851.0,717.2 L848.2,718.5 L845.4,719.8 L842.7,721.2 L839.9,722.6 L837.2,724.0 L834.5,725.4 L831.8,726.8 L829.1,728.2 L826.5,729.6 L823.9,731.0 L821.3,732.5 L818.7,733.9 L816.1,735.4 L813.5,736.8 L811.0,738.3 L808.5,739.8 L806.0,741.3 L803.5,742.8 L801.0,744.3 L798.6,745.9 L796.1,747.4 L793.7,749.0 L791.3,750.6 L789.0,752.1 L786.6,753.7 L784.3,755.4 L781.9,757.0 L779.6,758.6 L777.3,760.2 L775.1,761.9 L772.8,763.5 L770.6,765.1 L768.4,766.8 L766.2,768.4 L764.0,770.1 L761.8,771.7 L759.7,773.4 L757.6,775.0 L755.5,776.7 L753.4,778.3 L751.3,780.0 L749.3,781.6 L747.2,783.3 L745.2,784.9 L743.2,786.6 L741.2,788.3 L739.3,789.9 L737.3,791.6 L735.4,793.3 L733.5,795.0 L731.6,796.6 L729.7,798.3 L727.8,800.0 L726.0,801.7 L724.2,803.4 L722.4,805.1 L720.6,806.7 L718.8,808.4 L717.0,810.1 L715.3,811.8 L713.6,813.5 L711.9,815.2 L710.2,816.8 L708.5,818.5 L706.8,820.2 L705.2,821.8 L703.6,823.4 L702.0,825.0 L700.4,826.6 L698.8,828.2 L697.3,829.7 L695.7,831.2 L694.2,832.8 L692.7,834.3 L691.2,835.8 L689.8,837.3 L688.3,838.8 L686.9,840.3 L685.5,841.7 L684.1,843.2 L682.7,844.7 L681.3,846.1 L680.0,847.6 L678.6,849.0 L677.3,850.5 L676.0,852.0 L674.7,853.4 L673.4,854.9 L672.2,856.3 L670.9,857.8 L669.7,859.2 L668.5,860.6 L667.3,862.1 L666.2,863.5 L665.0,864.9 L663.9,866.3 L662.7,867.7 L661.6,869.1 L660.5,870.5 L659.4,871.9 L658.4,873.3 L657.3,874.6 L656.3,876.0 L655.3,877.4 L654.3,878.7 L653.3,880.0 L652.3,881.4 L651.4,882.7 L650.5,884.0 L649.5,885.3 L648.6,886.6 L647.7,887.9 L646.9,889.2 L646.0,890.5 L645.2,891.7 L644.3,893.0 L643.5,894.2 L642.7,895.5 L641.9,896.7 L641.2,897.9 L640.4,899.1 L639.7,900.3 L639.0,901.5 L638.2,902.7 L637.6,903.9 L636.9,905.0 L636.2,906.1 L635.6,907.3 L634.9,908.4 L634.3,909.5 L633.7,910.6 L633.1,911.7 L632.5,912.7 L632.0,913.8 L631.4,914.8 L630.9,915.8 L630.4,916.9 L629.8,917.8 L629.4,918.8 L628.9,919.8 L628.4,920.7 L628.0,921.7 L627.5,922.6 L627.1,923.5 L626.7,924.4 L626.3,925.2 L625.9,926.1 L625.5,926.9 L625.2,927.7 L624.8,928.5 L624.5,929.2 L624.2,930.0 L623.9,930.7 L623.6,931.4 L623.3,932.1 L623.0,932.8 L622.8,933.5 L622.5,934.1 L622.3,934.7 L622.1,935.3 L621.9,935.9 L621.7,936.4 L621.5,936.9 L621.3,937.4 L621.2,937.8 L621.0,938.3 L620.9,938.6 L620.8,939.0 L620.7,939.3 L620.6,939.6 L620.5,939.9 L620.4,940.1 L620.3,940.3 L620.3,940.5 L620.2,940.7 L620.2,940.8 L620.1,940.9 L620.1,941.0 L620.1,941.0 L620.1,941.0 L620.1,941.0Z" fill="url(#ptq)" stroke="#40e0d0" stroke-width="3.0"/>
<path d="M621.8,934.5 L621.9,934.5 L621.9,934.5 L621.9,934.4 L621.9,934.3 L621.9,934.2 L622.0,934.1 L622.0,934.0 L622.1,933.8 L622.2,933.6 L622.2,933.4 L622.3,933.1 L622.4,932.8 L622.5,932.5 L622.7,932.1 L622.8,931.8 L623.0,931.4 L623.1,930.9 L623.3,930.5 L623.5,930.0 L623.7,929.5 L623.9,928.9 L624.1,928.4 L624.3,927.8 L624.5,927.1 L624.8,926.5 L625.1,925.8 L625.3,925.1 L625.6,924.4 L625.9,923.6 L626.3,922.8 L626.6,922.0 L626.9,921.2 L627.3,920.4 L627.7,919.5 L628.0,918.6 L628.4,917.7 L628.8,916.8 L629.3,915.8 L629.7,914.9 L630.2,913.9 L630.6,912.9 L631.1,911.8 L631.6,910.8 L632.1,909.7 L632.6,908.6 L633.1,907.5 L633.7,906.4 L634.3,905.3 L634.8,904.2 L635.4,903.0 L636.0,901.8 L636.6,900.6 L637.3,899.4 L637.9,898.2 L638.6,896.9 L639.3,895.7 L640.0,894.4 L640.7,893.1 L641.4,891.8 L642.1,890.5 L642.9,889.2 L643.6,887.8 L644.4,886.5 L645.2,885.1 L646.0,883.7 L646.9,882.4 L647.7,881.0 L648.6,879.5 L649.4,878.1 L650.3,876.7 L651.2,875.2 L652.1,873.8 L653.1,872.3 L654.0,870.8 L655.0,869.3 L656.0,867.8 L657.0,866.3 L658.0,864.8 L659.0,863.3 L660.0,861.8 L661.1,860.2 L662.2,858.7 L663.3,857.2 L664.4,855.6 L665.5,854.1 L666.6,852.5 L667.8,850.9 L668.9,849.4 L670.1,847.8 L671.3,846.3 L672.5,844.7 L673.8,843.2 L675.0,841.6 L676.3,840.1 L677.6,838.5 L678.9,837.0 L680.2,835.4 L681.5,833.9 L682.9,832.4 L684.2,830.8 L685.6,829.3 L687.0,827.8 L688.4,826.2 L689.9,824.7 L691.3,823.2 L692.8,821.6 L694.2,820.0 L695.7,818.5 L697.3,816.9 L698.8,815.3 L700.3,813.7 L701.9,812.1 L703.5,810.4 L705.1,808.8 L706.7,807.1 L708.3,805.4 L710.0,803.7 L711.6,801.9 L713.3,800.2 L715.0,798.5 L716.7,796.8 L718.5,795.0 L720.2,793.3 L722.0,791.6 L723.8,789.9 L725.6,788.1 L727.4,786.4 L729.2,784.7 L731.1,783.0 L733.0,781.3 L734.8,779.5 L736.8,777.8 L738.7,776.1 L740.6,774.4 L742.6,772.7 L744.6,771.1 L746.5,769.4 L748.6,767.7 L750.6,766.1 L752.6,764.4 L754.7,762.8 L756.8,761.2 L758.9,759.5 L761.0,757.9 L763.1,756.3 L765.3,754.7 L767.5,753.2 L769.6,751.6 L771.8,750.0 L774.1,748.5 L776.3,747.0 L778.6,745.4 L780.9,743.9 L783.1,742.4 L785.5,741.0 L787.8,739.5 L790.1,738.0 L792.5,736.6 L794.9,735.1 L797.3,733.7 L799.7,732.3 L802.2,730.9 L804.6,729.5 L807.1,728.2 L809.6,726.8 L812.1,725.5 L814.6,724.1 L817.2,722.8 L819.7,721.3 L822.3,719.9 L824.9,718.4 L827.6,717.0 L830.2,715.6 L832.9,714.2 L835.5,712.8 L838.2,711.4 L840.9,710.0 L843.7,708.7 L846.4,707.3 L849.2,706.0 L852.0,704.6 L854.8,703.3 L857.6,702.0 L860.5,700.7 L863.3,699.4 L866.2,698.1 L869.1,696.9 L872.0,695.6 L875.0,694.4 L877.9,693.1 L880.9,691.9 L883.9,690.7 L886.9,689.5 L889.9,688.3 L893.0,687.1 L896.0,685.9 L899.1,684.7 L902.2,683.6 L905.4,682.4 L908.5,681.3 L911.7,680.1 L914.8,679.0 L918.0,677.8 L921.3,676.7 L924.5,675.6 L927.8,674.5 L931.0,673.4 L934.3,672.3 L937.6,671.2 L941.0,670.1 L944.3,669.0 L947.7,667.9 L951.1,666.9 L954.5,665.8 L957.9,664.7 L961.4,663.7 L964.8,662.6 L968.3,661.6 L971.8,660.5 L975.4,659.4 L978.9,658.3 L982.5,657.2 L986.1,656.1 L989.7,655.1 L993.3,654.0 L996.9,653.0 L1000.6,652.0 L1004.3,651.0 L1008.0,650.0 L1011.7,649.0 L1015.4,648.0 L1019.2,647.0 L1023.0,645.9 L1026.8,644.8 L1030.6,643.8 L1034.4,642.7 L1038.3,641.7 L1042.1,640.6 L1046.0,639.5 L1049.9,638.4 L1053.9,637.3 L1057.8,636.2 L1061.8,635.1 L1065.8,634.0 L1069.8,632.9 L1073.8,631.8 L1077.9,630.7 L1082.0,629.5 L1086.1,628.4 L1090.2,627.2 L1094.3,626.1 L1098.5,624.9 L1102.6,623.8 L1106.8,622.6 L1111.0,621.4 L1115.3,620.2 L1119.5,619.0 L1123.8,617.8 L1128.1,616.6 L1128.1,634.3 L1123.8,635.4 L1119.5,636.4 L1115.3,637.4 L1111.0,638.4 L1106.8,639.4 L1102.6,640.5 L1098.5,641.5 L1094.3,642.5 L1090.2,643.5 L1086.1,644.5 L1082.0,645.5 L1077.9,646.5 L1073.8,647.5 L1069.8,648.4 L1065.8,649.4 L1061.8,650.4 L1057.8,651.4 L1053.9,652.4 L1049.9,653.3 L1046.0,654.3 L1042.1,655.3 L1038.3,656.3 L1034.4,657.2 L1030.6,658.2 L1026.8,659.2 L1023.0,660.1 L1019.2,661.1 L1015.4,662.1 L1011.7,663.1 L1008.0,664.0 L1004.3,665.0 L1000.6,666.0 L996.9,667.0 L993.3,667.9 L989.7,668.9 L986.1,669.9 L982.5,670.9 L978.9,671.9 L975.4,672.9 L971.8,673.9 L968.3,674.9 L964.8,675.9 L961.4,676.9 L957.9,677.9 L954.5,678.9 L951.1,680.0 L947.7,681.0 L944.3,682.0 L941.0,683.1 L937.6,684.1 L934.3,685.2 L931.0,686.2 L927.8,687.3 L924.5,688.3 L921.3,689.4 L918.0,690.5 L914.8,691.6 L911.7,692.6 L908.5,693.7 L905.4,694.8 L902.2,695.9 L899.1,697.0 L896.0,698.1 L893.0,699.3 L889.9,700.4 L886.9,701.5 L883.9,702.6 L880.9,703.8 L877.9,704.9 L875.0,706.1 L872.0,707.3 L869.1,708.5 L866.2,709.7 L863.3,710.9 L860.5,712.1 L857.6,713.3 L854.8,714.5 L852.0,715.7 L849.2,717.0 L846.4,718.2 L843.7,719.5 L840.9,720.8 L838.2,722.0 L835.5,723.3 L832.9,724.6 L830.2,725.9 L827.6,727.2 L824.9,728.6 L822.3,729.9 L819.7,731.2 L817.2,732.6 L814.6,733.9 L812.1,735.3 L809.6,736.7 L807.1,738.1 L804.6,739.5 L802.2,740.9 L799.7,742.3 L797.3,743.8 L794.9,745.2 L792.5,746.7 L790.1,748.2 L787.8,749.7 L785.5,751.2 L783.1,752.7 L780.9,754.2 L778.6,755.7 L776.3,757.3 L774.1,758.8 L771.8,760.4 L769.6,762.0 L767.5,763.5 L765.3,765.1 L763.1,766.7 L761.0,768.3 L758.9,769.9 L756.8,771.5 L754.7,773.1 L752.6,774.7 L750.6,776.4 L748.6,778.0 L746.5,779.6 L744.6,781.3 L742.6,782.9 L740.6,784.6 L738.7,786.2 L736.8,787.9 L734.8,789.5 L733.0,791.2 L731.1,792.9 L729.2,794.5 L727.4,796.2 L725.6,797.9 L723.8,799.6 L722.0,801.3 L720.2,802.9 L718.5,804.6 L716.7,806.3 L715.0,808.0 L713.3,809.7 L711.6,811.3 L710.0,813.0 L708.3,814.7 L706.7,816.4 L705.1,818.0 L703.5,819.6 L701.9,821.2 L700.3,822.8 L698.8,824.3 L697.3,825.9 L695.7,827.4 L694.2,828.9 L692.8,830.5 L691.3,832.0 L689.9,833.5 L688.4,835.0 L687.0,836.5 L685.6,837.9 L684.2,839.4 L682.9,840.9 L681.5,842.4 L680.2,843.9 L678.9,845.4 L677.6,846.9 L676.3,848.3 L675.0,849.8 L673.8,851.3 L672.5,852.8 L671.3,854.3 L670.1,855.8 L668.9,857.3 L667.8,858.7 L666.6,860.2 L665.5,861.7 L664.4,863.1 L663.3,864.6 L662.2,866.0 L661.1,867.4 L660.0,868.9 L659.0,870.3 L658.0,871.7 L657.0,873.1 L656.0,874.5 L655.0,875.9 L654.0,877.2 L653.1,878.6 L652.1,880.0 L651.2,881.3 L650.3,882.7 L649.4,884.0 L648.6,885.3 L647.7,886.6 L646.9,887.9 L646.0,889.2 L645.2,890.5 L644.4,891.7 L643.6,893.0 L642.9,894.2 L642.1,895.4 L641.4,896.7 L640.7,897.9 L640.0,899.0 L639.3,900.2 L638.6,901.4 L637.9,902.5 L637.3,903.7 L636.6,904.8 L636.0,905.9 L635.4,907.0 L634.8,908.1 L634.3,909.1 L633.7,910.2 L633.1,911.2 L632.6,912.3 L632.1,913.3 L631.6,914.2 L631.1,915.2 L630.6,916.2 L630.2,917.1 L629.7,918.0 L629.3,918.9 L628.8,919.8 L628.4,920.7 L628.0,921.5 L627.7,922.3 L627.3,923.2 L626.9,923.9 L626.6,924.7 L626.3,925.4 L625.9,926.2 L625.6,926.9 L625.3,927.5 L625.1,928.2 L624.8,928.8 L624.5,929.4 L624.3,930.0 L624.1,930.6 L623.9,931.1 L623.7,931.6 L623.5,932.1 L623.3,932.5 L623.1,933.0 L623.0,933.4 L622.8,933.8 L622.7,934.1 L622.5,934.4 L622.4,934.7 L622.3,935.0 L622.2,935.2 L622.2,935.5 L622.1,935.6 L622.0,935.8 L622.0,935.9 L621.9,936.1 L621.9,936.2 L621.9,936.2 L621.9,936.3 L621.9,936.3 L621.8,936.3Z" fill="url(#prd)" stroke="#f00" stroke-width="3.0"/>
<path d="M622.9,932.8 L622.9,932.8 L622.9,932.8 L622.9,932.8 L622.9,932.7 L622.9,932.6 L623.0,932.5 L623.0,932.4 L623.1,932.2 L623.2,932.0 L623.3,931.8 L623.3,931.6 L623.5,931.3 L623.6,931.1 L623.7,930.7 L623.8,930.4 L624.0,930.1 L624.1,929.7 L624.3,929.3 L624.5,928.8 L624.7,928.4 L624.9,927.9 L625.1,927.4 L625.3,926.8 L625.6,926.3 L625.8,925.7 L626.1,925.1 L626.4,924.4 L626.6,923.8 L627.0,923.1 L627.3,922.4 L627.6,921.7 L627.9,920.9 L628.3,920.2 L628.7,919.4 L629.0,918.6 L629.4,917.8 L629.9,916.9 L630.3,916.1 L630.7,915.2 L631.2,914.3 L631.6,913.4 L632.1,912.4 L632.6,911.5 L633.1,910.5 L633.6,909.5 L634.1,908.5 L634.7,907.5 L635.3,906.5 L635.8,905.4 L636.4,904.4 L637.0,903.3 L637.6,902.2 L638.3,901.1 L638.9,900.0 L639.6,898.8 L640.3,897.7 L640.9,896.5 L641.6,895.3 L642.4,894.2 L643.1,893.0 L643.9,891.7 L644.6,890.5 L645.4,889.3 L646.2,888.0 L647.0,886.8 L647.8,885.5 L648.7,884.2 L649.5,882.9 L650.4,881.6 L651.3,880.3 L652.2,879.0 L653.1,877.6 L654.0,876.3 L655.0,874.9 L655.9,873.6 L656.9,872.2 L657.9,870.8 L658.9,869.4 L659.9,868.0 L661.0,866.6 L662.0,865.2 L663.1,863.8 L664.2,862.3 L665.3,860.9 L666.4,859.4 L667.5,858.0 L668.7,856.5 L669.9,855.1 L671.0,853.6 L672.2,852.1 L673.5,850.7 L674.7,849.2 L675.9,847.7 L677.2,846.2 L678.5,844.7 L679.8,843.2 L681.1,841.8 L682.4,840.3 L683.8,838.8 L685.1,837.3 L686.5,835.9 L687.9,834.4 L689.3,832.9 L690.7,831.4 L692.2,829.9 L693.6,828.4 L695.1,826.9 L696.6,825.3 L698.1,823.8 L699.6,822.3 L701.2,820.7 L702.8,819.1 L704.3,817.5 L705.9,815.9 L707.5,814.2 L709.2,812.6 L710.8,810.9 L712.5,809.2 L714.2,807.6 L715.8,805.9 L717.6,804.2 L719.3,802.5 L721.0,800.8 L722.8,799.2 L724.6,797.5 L726.4,795.8 L728.2,794.1 L730.0,792.5 L731.9,790.8 L733.8,789.1 L735.6,787.4 L737.5,785.8 L739.5,784.1 L741.4,782.5 L743.4,780.8 L745.3,779.2 L747.3,777.5 L749.3,775.9 L751.3,774.3 L753.4,772.7 L755.4,771.1 L757.5,769.5 L759.6,767.8 L761.7,766.2 L763.9,764.6 L766.0,763.1 L768.2,761.5 L770.4,759.9 L772.6,758.3 L774.8,756.8 L777.0,755.2 L779.3,753.7 L781.5,752.1 L783.8,750.6 L786.1,749.1 L788.5,747.6 L790.8,746.1 L793.2,744.6 L795.6,743.2 L798.0,741.7 L800.4,740.3 L802.8,738.8 L805.3,737.4 L807.7,736.0 L810.2,734.6 L812.7,733.2 L815.3,731.8 L817.8,730.5 L820.4,729.1 L822.9,727.8 L825.5,726.5 L828.2,725.1 L830.8,723.8 L833.4,722.5 L836.1,721.2 L838.8,719.9 L841.5,718.6 L844.2,717.4 L847.0,716.1 L849.8,714.8 L852.5,713.6 L855.3,712.4 L858.2,711.1 L861.0,709.9 L863.8,708.7 L866.7,707.5 L869.6,706.3 L872.5,705.1 L875.5,703.9 L878.4,702.8 L881.4,701.6 L884.4,700.4 L887.4,699.3 L890.4,698.2 L893.4,697.0 L896.5,695.9 L899.6,694.8 L902.7,693.7 L905.8,692.6 L908.9,691.5 L912.1,690.4 L915.3,689.3 L918.5,688.2 L921.7,687.1 L924.9,686.0 L928.2,685.0 L931.4,683.9 L934.7,682.8 L938.0,681.8 L941.4,680.7 L944.7,679.7 L948.1,678.7 L951.4,677.6 L954.8,676.6 L958.3,675.6 L961.7,674.5 L965.2,673.5 L968.7,672.5 L972.2,671.5 L975.7,670.5 L979.2,669.5 L982.8,668.5 L986.3,667.5 L989.9,666.5 L993.6,665.5 L997.2,664.5 L1000.8,663.5 L1004.5,662.6 L1008.2,661.6 L1011.9,660.6 L1015.6,659.6 L1019.4,658.6 L1023.2,657.7 L1027.0,656.7 L1030.8,655.7 L1034.6,654.7 L1038.4,653.8 L1042.3,652.8 L1046.2,651.8 L1050.1,650.8 L1054.0,649.8 L1058.0,648.8 L1061.9,647.9 L1065.9,646.9 L1069.9,645.9 L1074.0,644.9 L1078.0,643.9 L1082.1,642.9 L1086.1,641.9 L1090.3,640.9 L1094.4,639.9 L1098.5,638.9 L1102.7,637.9 L1106.9,636.8 L1111.1,635.8 L1115.3,634.8 L1119.5,633.8 L1123.8,632.7 L1128.1,631.7" stroke="#00f" stroke-width="6"/>
<path d="M621.8,935.6 L621.9,935.6 L621.9,935.5 L621.9,935.5 L621.9,935.4 L621.9,935.3 L622.0,935.2 L622.0,935.1 L622.1,934.9 L622.2,934.7 L622.2,934.5 L622.3,934.2 L622.4,933.9 L622.5,933.6 L622.7,933.3 L622.8,932.9 L623.0,932.5 L623.1,932.1 L623.3,931.7 L623.5,931.2 L623.7,930.7 L623.9,930.2 L624.1,929.6 L624.3,929.0 L624.5,928.4 L624.8,927.8 L625.1,927.2 L625.3,926.5 L625.6,925.8 L625.9,925.0 L626.3,924.3 L626.6,923.5 L626.9,922.7 L627.3,921.9 L627.7,921.1 L628.0,920.2 L628.4,919.3 L628.8,918.4 L629.3,917.5 L629.7,916.6 L630.2,915.6 L630.6,914.7 L631.1,913.7 L631.6,912.7 L632.1,911.6 L632.6,910.6 L633.1,909.5 L633.7,908.4 L634.3,907.4 L634.8,906.2 L635.4,905.1 L636.0,904.0 L636.6,902.8 L637.3,901.7 L637.9,900.5 L638.6,899.3 L639.3,898.1 L640.0,896.9 L640.7,895.6 L641.4,894.4 L642.1,893.1 L642.9,891.9 L643.6,890.6 L644.4,889.3 L645.2,888.0 L646.0,886.6 L646.9,885.3 L647.7,884.0 L648.6,882.6 L649.4,881.2 L650.3,879.9 L651.2,878.5 L652.1,877.1 L653.1,875.7 L654.0,874.3 L655.0,872.8 L656.0,871.4 L657.0,870.0 L658.0,868.5 L659.0,867.0 L660.0,865.6 L661.1,864.1 L662.2,862.6 L663.3,861.1 L664.4,859.6 L665.5,858.1 L666.6,856.6 L667.8,855.1 L668.9,853.6 L670.1,852.0 L671.3,850.5 L672.5,849.0 L673.8,847.4 L675.0,845.9 L676.3,844.4 L677.6,842.8 L678.9,841.3 L680.2,839.7 L681.5,838.2 L682.9,836.7 L684.2,835.1 L685.6,833.6 L687.0,832.1 L688.4,830.5 L689.9,829.0 L691.3,827.5 L692.8,825.9 L694.2,824.3 L695.7,822.8 L697.3,821.2 L698.8,819.6 L700.3,818.0 L701.9,816.4 L703.5,814.7 L705.1,813.1 L706.7,811.4 L708.3,809.7 L710.0,808.0 L711.6,806.2 L713.3,804.5 L715.0,802.8 L716.7,801.1 L718.5,799.3 L720.2,797.6 L722.0,795.9 L723.8,794.2 L725.6,792.4 L727.4,790.7 L729.2,789.0 L731.1,787.3 L733.0,785.6 L734.8,783.8 L736.8,782.1 L738.7,780.4 L740.6,778.7 L742.6,777.0 L744.6,775.3 L746.5,773.7 L748.6,772.0 L750.6,770.3 L752.6,768.7 L754.7,767.0 L756.8,765.3 L758.9,763.7 L761.0,762.0 L763.1,760.4 L765.3,758.8 L767.5,757.1 L769.6,755.5 L771.8,753.9 L774.1,752.3 L776.3,750.7 L778.6,749.1 L780.9,747.5 L783.1,746.0 L785.5,744.4 L787.8,742.9 L790.1,741.3 L792.5,739.8 L794.9,738.3 L797.3,736.7 L799.7,735.3 L802.2,733.8 L804.6,732.3 L807.1,730.8 L809.6,729.4 L812.1,727.9 L814.6,726.5 L817.2,725.1 L819.7,723.7 L822.3,722.3 L824.9,720.9 L827.6,719.5 L830.2,718.2 L832.9,716.8 L835.5,715.5 L838.2,714.1 L840.9,712.8 L843.7,711.4 L846.4,710.1 L849.2,708.8 L852.0,707.5 L854.8,706.2 L857.6,705.0 L860.5,703.7 L863.3,702.4 L866.2,701.2 L869.1,699.9 L872.0,698.7 L875.0,697.5 L877.9,696.3 L880.9,695.1 L883.9,693.9 L886.9,692.7 L889.9,691.5 L893.0,690.4 L896.0,689.2 L899.1,688.1 L902.2,686.9 L905.4,685.8 L908.5,684.7 L911.7,683.5 L914.8,682.4 L918.0,681.3 L921.3,680.2 L924.5,679.1 L927.8,678.0 L931.0,676.9 L934.3,675.9 L937.6,674.8 L941.0,673.7 L944.3,672.7 L947.7,671.7 L951.1,670.6 L954.5,669.6 L957.9,668.6 L961.4,667.5 L964.8,666.5 L968.3,665.5 L971.8,664.5 L975.4,663.5 L978.9,662.6 L982.5,661.6 L986.1,660.6 L989.7,659.6 L993.3,658.7 L996.9,657.7 L1000.6,656.8 L1004.3,655.8 L1008.0,654.9 L1011.7,653.9 L1015.4,653.0 L1019.2,652.0 L1023.0,651.1 L1026.8,650.1 L1030.6,649.2 L1034.4,648.2 L1038.3,647.3 L1042.1,646.3 L1046.0,645.4 L1049.9,644.4 L1053.9,643.5 L1057.8,642.5 L1061.8,641.6 L1065.8,640.6 L1069.8,639.6 L1073.8,638.6 L1077.9,637.7 L1082.0,636.7 L1086.1,635.7 L1090.2,634.7 L1094.3,633.7 L1098.5,632.6 L1102.6,631.6 L1106.8,630.6 L1111.0,629.6 L1115.3,628.5 L1119.5,627.5 L1123.8,626.4 L1128.1,625.3" stroke="#f00" stroke-width="6"/>
<path d="M618.8,939.2 L618.8,939.9 L618.8,940.3 L618.8,940.5 L618.9,940.6 L618.9,940.7 L618.9,940.7 L619.0,940.7 L619.0,940.6 L619.1,940.5 L619.2,940.3 L619.3,940.1 L619.4,939.8 L619.5,939.6 L619.6,939.3 L619.8,939.0 L619.9,938.6 L620.1,938.3 L620.2,937.9 L620.4,937.4 L620.6,937.0 L620.8,936.5 L621.0,936.1 L621.3,935.6 L621.5,935.0 L621.8,934.5 L622.0,933.9 L622.3,933.3 L622.6,932.8 L622.9,932.1 L623.2,931.5 L623.6,930.9 L623.9,930.2 L624.3,929.5 L624.6,928.8 L625.0,928.1 L625.4,927.4 L625.8,926.6 L626.3,925.8 L626.7,925.1 L627.2,924.3 L627.6,923.5 L628.1,922.7 L628.6,921.8 L629.1,921.0 L629.6,920.1 L630.2,919.2 L630.7,918.3 L631.3,917.4 L631.9,916.5 L632.5,915.6 L633.1,914.7 L633.7,913.7 L634.3,912.7 L635.0,911.7 L635.6,910.8 L636.3,909.8 L637.0,908.7 L637.7,907.7 L638.5,906.7 L639.2,905.6 L640.0,904.5 L640.7,903.5 L641.5,902.4 L642.3,901.3 L643.1,900.2 L644.0,899.1 L644.8,897.9 L645.7,896.8 L646.5,895.6 L647.4,894.4 L648.3,893.3 L649.3,892.1 L650.2,890.9 L651.2,889.7 L652.1,888.5 L653.1,887.2 L654.1,886.0 L655.1,884.7 L656.2,883.5 L657.2,882.2 L658.3,880.9 L659.4,879.6 L660.5,878.3 L661.6,877.0 L662.7,875.7 L663.8,874.3 L665.0,873.0 L666.2,871.6 L667.4,870.3 L668.6,868.9 L669.8,867.5 L671.0,866.1 L672.3,864.7 L673.6,863.3 L674.9,861.9 L676.2,860.5 L677.5,859.0 L678.8,857.6 L680.2,856.1 L681.6,854.6 L682.9,853.2 L684.4,851.7 L685.8,850.2 L687.2,848.7 L688.7,847.2 L690.1,845.6 L691.6,844.1 L693.1,842.6 L694.7,841.0 L696.2,839.4 L697.8,837.9 L699.3,836.3 L700.9,834.7 L702.5,833.1 L704.2,831.5 L705.8,829.9 L707.5,828.3 L709.1,826.7 L710.8,825.1 L712.5,823.5 L714.3,821.8 L716.0,820.2 L717.8,818.5 L719.5,816.9 L721.3,815.2 L723.2,813.6 L725.0,811.9 L726.8,810.2 L728.7,808.6 L730.6,806.9 L732.5,805.2 L734.4,803.5 L736.3,801.8 L738.3,800.1 L740.3,798.4 L742.2,796.7 L744.3,795.0 L746.3,793.3 L748.3,791.6 L750.4,789.8 L752.5,788.1 L754.5,786.4 L756.7,784.7 L758.8,782.9 L760.9,781.2 L763.1,779.5 L765.3,777.7 L767.5,776.0 L769.7,774.3 L771.9,772.5 L774.2,770.8 L776.5,769.0 L778.8,767.3 L781.1,765.5 L783.4,763.8 L785.7,762.0 L788.1,760.3 L790.5,758.5 L792.9,756.8 L795.3,755.0 L797.7,753.3 L800.2,751.5 L802.7,749.8 L805.2,748.0 L807.7,746.3 L810.2,744.5 L812.7,742.8 L815.3,741.0 L817.9,739.3 L820.5,737.5 L823.1,735.7 L825.7,734.0 L828.4,732.2 L831.1,730.5 L833.8,728.7 L836.5,727.0 L839.2,725.2 L842.0,723.5 L844.7,721.7 L847.5,720.0 L850.3,718.2 L853.1,716.5 L856.0,714.7 L858.8,713.0 L861.7,711.2 L864.6,709.5 L867.5,707.7 L870.5,706.0 L873.4,704.2 L876.4,702.5 L879.4,700.7 L882.4,699.0 L885.4,697.3 L888.5,695.5 L891.5,693.8 L894.6,692.0 L897.7,690.3 L900.9,688.6 L904.0,686.8 L907.2,685.1 L910.4,683.3 L913.6,681.6 L916.8,679.9 L920.0,678.1 L923.3,676.4 L926.5,674.7 L929.8,672.9 L933.2,671.2 L936.5,669.5 L939.8,667.7 L943.2,666.0 L946.6,664.3 L950.0,662.5 L953.5,660.8 L956.9,659.1 L960.4,657.4 L963.9,655.6 L967.4,653.9 L970.9,652.2 L974.4,650.5 L978.0,648.8 L981.6,647.0 L985.2,645.3 L988.8,643.6 L992.5,641.9 L996.1,640.2 L999.8,638.5 L1003.5,636.8 L1007.2,635.1 L1011.0,633.3 L1014.7,631.6 L1018.5,629.9 L1022.3,628.2 L1026.1,626.5 L1030.0,624.8 L1033.8,623.1 L1037.7,621.4 L1041.6,619.7 L1045.5,618.0 L1049.5,616.3 L1053.4,614.6 L1057.4,612.8 L1061.4,611.1 L1065.4,609.4 L1069.5,607.7 L1073.5,606.0 L1077.6,604.3 L1081.7,602.6 L1085.8,600.9 L1089.9,599.2 L1094.1,597.5 L1098.3,595.8 L1102.5,594.0 L1106.7,592.3 L1110.9,590.6 L1115.2,588.9 L1119.5,587.2 L1123.8,585.5 L1128.1,583.8" stroke="#000" stroke-width="6" stroke-dasharray="31 18" stroke-dashoffset="-2.5"/>
</g>
<g stroke="#9400d3" stroke-width="3.4" fill="#9400d3"><path d="M745.5,784.8 V802.8 M729.5,784.8 h32 M729.5,802.8 h32"/><circle cx="745.5" cy="793.8" r="11.3" stroke="none"/></g>
<g stroke="#00ff00" stroke-width="3.4" fill="#00ff00"><path d="M858.6,713.3 h32.0"/><circle cx="874.6" cy="713.3" r="11.3" stroke="none"/></g>
<g stroke="#40e0d0" stroke-width="3.4" fill="#40e0d0"><path d="M894.6,706.9 h32.0"/><circle cx="910.6" cy="706.9" r="11.3" stroke="none"/></g>
<g stroke="#ffa500" stroke-width="3.4" fill="#ffa500"><path d="M871.5,706.0 h32.0"/><circle cx="887.5" cy="706.0" r="11.3" stroke="none"/></g>
<path d="M1126.8,632.0 l3.5,-0.7" stroke="#00f" stroke-width="0.8"/>
<g stroke="#000" stroke-width="3.4" fill="none">
<rect x="618.8" y="573.4" width="508.0" height="365.8"/>
<path d="M669.6,939.2 v-20 M669.6,573.4 v20"/>
<path d="M720.4,939.2 v-20 M720.4,573.4 v20"/>
<path d="M771.2,939.2 v-20 M771.2,573.4 v20"/>
<path d="M822.0,939.2 v-20 M822.0,573.4 v20"/>
<path d="M872.8,939.2 v-40 M872.8,573.4 v40"/>
<path d="M923.6,939.2 v-20 M923.6,573.4 v20"/>
<path d="M974.4,939.2 v-20 M974.4,573.4 v20"/>
<path d="M1025.2,939.2 v-20 M1025.2,573.4 v20"/>
<path d="M1076.0,939.2 v-20 M1076.0,573.4 v20"/>
<path d="M618.8,893.5 h20 M1126.8,893.5 h-20"/>
<path d="M618.8,847.8 h40 M1126.8,847.8 h-40"/>
<path d="M618.8,802.0 h20 M1126.8,802.0 h-20"/>
<path d="M618.8,756.3 h40 M1126.8,756.3 h-40"/>
<path d="M618.8,710.6 h20 M1126.8,710.6 h-20"/>
<path d="M618.8,664.9 h40 M1126.8,664.9 h-40"/>
<path d="M618.8,619.1 h20 M1126.8,619.1 h-20"/>
</g>
<g font-family="Liberation Serif, serif" font-size="45.6" fill="#000">
<text x="599.5" y="954.7" text-anchor="end">0</text>
<text x="599.5" y="863.2" text-anchor="end">10</text>
<text x="599.5" y="771.8" text-anchor="end">20</text>
<text x="599.5" y="680.4" text-anchor="end">30</text>
<text x="599.5" y="588.9" text-anchor="end">40</text>
<text x="619.3" y="990" text-anchor="middle">0.0</text>
<text x="873.3" y="990" text-anchor="middle">0.1</text>
<text x="1127.3" y="990" text-anchor="middle">0.2</text>
</g>
</svg>
</body></html>
